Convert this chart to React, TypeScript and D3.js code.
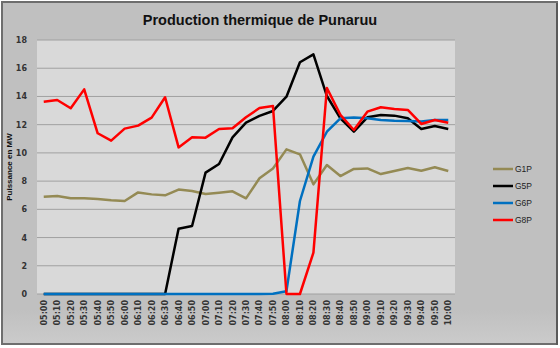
import React from "react";
import * as d3 from "d3";

const times = ["05:00","05:10","05:20","05:30","05:40","05:50","06:00","06:10","06:20","06:30","06:40","06:50","07:00","07:10","07:20","07:30","07:40","07:50","08:00","08:10","08:20","08:30","08:40","08:50","09:00","09:10","09:20","09:30","09:40","09:50","10:00"];
const g1p = [6.9,6.95,6.78,6.78,6.73,6.64,6.59,7.2,7.06,6.99,7.4,7.3,7.09,7.18,7.28,6.78,8.2,8.9,10.25,9.9,7.77,9.14,8.36,8.86,8.9,8.5,8.72,8.93,8.74,8.98,8.72];
const g5p = [0,0,0,0,0,0,0,0,0,0,4.63,4.82,8.6,9.21,11.1,12.14,12.62,12.97,13.98,16.42,16.98,14.03,12.45,11.5,12.52,12.69,12.64,12.45,11.69,11.9,11.69];
const g6p = [0,0,0,0,0,0,0,0,0,0,0,0,0,0,0,0,0,0.02,0.2,6.59,9.73,11.5,12.45,12.5,12.45,12.33,12.28,12.26,12.23,12.33,12.33];
const g8p = [13.63,13.75,13.16,14.5,11.39,10.87,11.72,11.93,12.5,13.94,10.39,11.1,11.08,11.69,11.74,12.52,13.18,13.32,0,0,2.93,14.6,12.69,11.62,12.92,13.23,13.11,13.04,12.05,12.33,12.14];
const yTicks = [0,2,4,6,8,10,12,14,16,18];
const seriesNames = ["G1P","G5P","G6P","G8P"];
const seriesColors = ["#948A54","#000000","#0070C0","#FF0000"];
const seriesData = [g1p, g5p, g6p, g8p];

export default function App() {
  const W = 560, H = 348;
  const left = 37, right = 455, top = 40, bottom = 294;
  const x = d3.scaleBand<string>().domain(times).range([left, right]);
  const y = d3.scaleLinear().domain([0, 18]).range([bottom, top]);
  const line = d3.line<number>()
    .x((_, i) => (x(times[i]) as number) + x.bandwidth() / 2)
    .y((d) => y(d));
  const font = "'DejaVu Sans', Verdana, sans-serif";
  const tfont = "'Liberation Sans', Arial, sans-serif";
  return (
    <svg width={W} height={H} style={{ position: "absolute", left: 0, top: 0 }}>
      <defs>
        <linearGradient id="bg" x1="0" y1="0" x2="0" y2="1">
          <stop offset="0" stopColor="#c0c0c0" />
          <stop offset="0.9" stopColor="#c0c0c0" />
          <stop offset="1" stopColor="#cbcbcb" />
        </linearGradient>
      </defs>
      <rect x={0} y={0} width={W} height={H} fill="#ffffff" />
      <rect x={2} y={2} width={555} height={342} fill="url(#bg)" stroke="#6e6e6e" strokeWidth={2} />
      <line x1={557} y1={3} x2={557} y2={345} stroke="#5a5a5a" strokeWidth={2} />
      <rect x={left} y={top} width={right - left} height={bottom - top} fill="#d9d9d9" />
      {yTicks.filter((t) => t > 0).map((t) => (
        <line key={t} x1={left} x2={right} y1={y(t)} y2={y(t)} stroke="#a0a0a0" strokeWidth={1} />
      ))}
      <line x1={left} x2={right} y1={bottom} y2={bottom} stroke="#a0a0a0" strokeWidth={1} />
      {yTicks.map((t) => (
        <text key={t} x={27} y={y(t) + 3} textAnchor="end" fontSize={8} fontWeight="bold" fill="#333" fontFamily={font}>{t}</text>
      ))}
      {times.map((t) => {
        const cx = (x(t) as number) + x.bandwidth() / 2;
        return (
          <text key={t} transform={`translate(${cx + 3},${300}) rotate(-90)`} textAnchor="end" fontSize={8} fontWeight="bold" fill="#333" fontFamily={font}>{t}</text>
        );
      })}
      <text x={260} y={25} textAnchor="middle" fontSize={14.5} fontWeight="bold" fill="#111" fontFamily={tfont}>Production thermique de Punaruu</text>
      <text transform={`translate(12,167) rotate(-90)`} textAnchor="middle" fontSize={8} fontWeight="bold" fill="#111" fontFamily={tfont}>Puissance en MW</text>
      {seriesData.map((d, i) => (
        <path key={i} d={line(d) as string} fill="none" stroke={seriesColors[i]} strokeWidth={2.5} strokeLinejoin="round" />
      ))}
      {seriesNames.map((n, i) => (
        <g key={n}>
          <line x1={493} x2={513} y1={169 + i * 17} y2={169 + i * 17} stroke={seriesColors[i]} strokeWidth={2.5} />
          <text x={515} y={172 + i * 17} fontSize={8.5} fill="#222" fontFamily={tfont}>{n}</text>
        </g>
      ))}
    </svg>
  );
}
